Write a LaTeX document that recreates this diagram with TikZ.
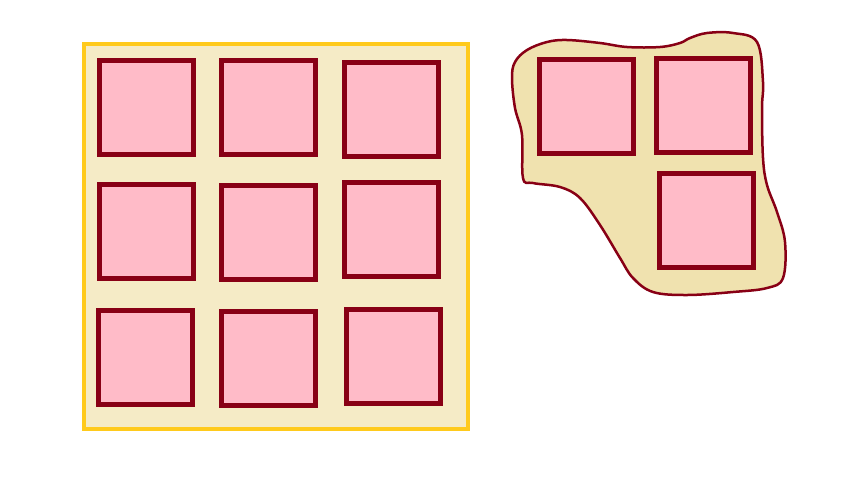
\documentclass[tikz,border=0pt]{standalone}
\definecolor{tilepink}{HTML}{FFBBC8}
\definecolor{tileedge}{HTML}{880015}
\definecolor{framegold}{HTML}{FFCA1C}
\definecolor{framefill}{HTML}{F5EBC6}
\definecolor{blobfill}{HTML}{F0E2AF}
\tikzset{
    tile/.style={line width=5pt, draw=tileedge, fill=tilepink},
}
\begin{document}
\begin{tikzpicture}[x=1pt, y=-1pt]
        \useasboundingbox (0,0) rectangle (842,491);
        % square frame
        \filldraw[line width=4pt, draw=framegold, fill=framefill] (84,44) rectangle (468,429);
        % loose blob
        \filldraw[line width=2.5pt, draw=tileedge, fill=blobfill]
            plot[smooth cycle, tension=0.6] coordinates {
                (515,62) (512,78) (515,108) (522,135) (523,178) (533,183)
                (560,187) (580,198) (600,225) (620,258) (633,278) (653,292)
                (687,295) (733,292) (767,288) (783,278) (785,242) (777,212)
                (767,185) (763,158) (762,108) (763,82) (757,42) (733,33)
                (707,33) (690,38) (680,43) (660,47) (627,47) (600,43)
                (567,40) (547,42) (527,50)};
        % tiles
        \foreach \x/\y in {97/58, 219/58, 342/60, 97/182, 219/183, 342/180,
                96/308, 219/309, 344/307, 537/57, 654/56, 657/171}
            \draw[tile] (\x+2.5,\y+2.5) rectangle +(94,94);
    \end{tikzpicture}
\end{document}
